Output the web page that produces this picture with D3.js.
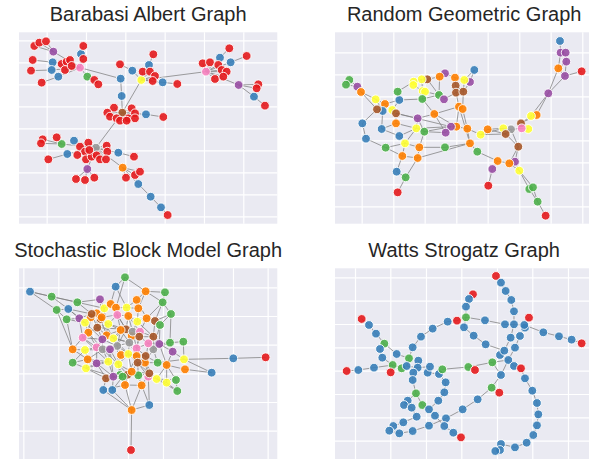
<!DOCTYPE html>
<html>
<head>
<meta charset="utf-8">
<script src="https://cdn.jsdelivr.net/npm/d3@7"></script>
<style>
  body { margin: 0; background: #fff; }
  svg { display: block; }
</style>
</head>
<body>
<svg id="chart"></svg>
<script>
// node = [id, x, y, community] in layout units, edges = "a-b"

// ---- Barabasi Albert ----
var baNodes = [
  ["Y",424,240,5],["P1",240,203,7],["P2",618,215,7],["B",367,338,6],["G",288,443,8],
  ["y1",362,236,1],["y2",397,212,1],["y3",447,195,1],["y4",428,215,0],["y5",450,215,0],["y6",465,228,0],
  ["y7",458,243,0],["y8",488,247,1],["y9",360,193,0],["y10",365,288,1],["y11",460,163,0],["y12",532,252,0],
  ["l1",160,155,3],["l2",103,138,0],["l3",118,128,0],["l4",138,124,0],["l5",243,162,1],["l6",250,138,0],
  ["l7",158,187,1],["l8",98,180,0],["l9",155,210,1],["l10",93,212,0],["l11",175,230,1],["l12",125,248,0],
  ["l13",262,230,2],["l14",283,240,0],["l15",295,253,0],["l16",185,192,0],["l17",200,185,0],["l18",210,180,0],
  ["l19",195,210,0],["l20",215,198,0],["l21",250,177,0],
  ["r1",660,173,1],["r2",688,145,0],["r3",692,187,1],["r4",740,168,0],["r5",608,190,0],["r6",630,187,0],
  ["r7",655,195,0],["r8",665,210,0],["r9",680,215,0],["r10",645,237,0],["r11",670,230,0],["r12",716,255,3],
  ["r13",775,253,0],["r14",770,265,0],["r15",762,290,1],["r16",795,317,0],
  ["m1",342,323,0],["m2",322,338,0],["m3",330,350,0],["m4",395,325,0],["m5",405,340,0],["m6",385,355,0],
  ["m7",405,355,0],["m8",350,355,0],["m9",360,362,0],["m10",380,362,0],["m11",438,343,1],["m12",490,351,0],
  ["d1",185,432,2],["d2",128,418,0],["d3",123,430,0],["d4",170,412,0],["d5",222,422,1],["d6",202,462,1],
  ["d7",145,478,0],["d8",240,440,0],["d9",265,428,0],["d10",255,455,0],["d11",232,465,0],["d12",258,478,0],
  ["d13",275,470,0],["d14",290,466,0],["d15",300,478,0],["d16",320,437,0],["d17",322,455,0],["d18",318,478,0],
  ["d19",268,450,0],["d20",262,507,3],["d21",228,537,0],["d22",255,540,0],["d23",283,533,0],["d24",355,458,1],
  ["d25",402,470,0],["d26",368,503,4],["d27",405,525,0],["d28",420,515,0],["d29",378,533,0],["d30",415,552,1],
  ["d31",452,590,1],["d32",483,622,1],["d33",503,645,0]
];
var baEdges = [
  "P1-l1","P1-l5","P1-l7","P1-l9","P1-l11","P1-l13","P1-l16","P1-l17","P1-l18","P1-l19","P1-l20","P1-l21","P1-y1",
  "l1-l2","l1-l3","l1-l4","l5-l6","l7-l8","l9-l10","l11-l12","l13-l14","l13-l15",
  "y1-y10","y10-B","Y-B","Y-P2","Y-y2","Y-y3","Y-y4","Y-y5","Y-y6","Y-y7","Y-y8","y2-y9","y3-y11","y8-y12",
  "P2-r1","P2-r3","P2-r5","P2-r6","P2-r7","P2-r8","P2-r9","P2-r10","P2-r11","P2-r12",
  "r1-r2","r3-r4","r12-r13","r12-r14","r12-r15","r15-r16",
  "B-m1","B-m2","B-m3","B-m4","B-m5","B-m6","B-m7","B-m8","B-m9","B-m10","B-m11","m11-m12","B-G",
  "G-d1","G-d5","G-d6","G-d8","G-d9","G-d10","G-d11","G-d12","G-d13","G-d14","G-d15","G-d16","G-d17","G-d18","G-d19",
  "G-d20","G-d24","G-d26","d1-d2","d1-d3","d1-d4","d6-d7","d20-d21","d20-d22","d20-d23","d24-d25",
  "d26-d27","d26-d28","d26-d29","d26-d30","d30-d31","d31-d32","d32-d33"
];
var baXTicks = [140,258,376,494,612,730];
var baYTicks = [121,187,253,319,385,451,517,583,649];

// ---- Random Geometric ----
var rgNodes = [
  ["a1",795,123,1],["a2",797,158,3],["a3",812,158,3],["a4",814,185,3],["a5",790,205,4],["a6",810,228,3],
  ["a7",860,214,0],["a8",760,280,3],["a9",725,345,4],["a10",708,348,5],["a11",678,370,6],["a12",700,387,5],
  ["a13",680,385,7],["a14",648,388,8],["a15",625,385,5],["a16",632,402,6],["a17",578,388,4],["a18",557,404,5],
  ["a19",517,386,4],["a20",484,380,4],["a21",468,380,3],["a22",452,398,3],["a23",525,430,4],["a24",547,455,2],
  ["a25",670,440,6],["a26",660,485,3],["a27",643,490,4],["a28",608,483,4],["a29",592,507,3],["a30",580,557,0],
  ["a31",673,512,5],["a32",703,567,2],["a33",714,562,2],["a34",728,605,2],["a35",752,647,0],
  ["b1",538,210,1],["b2",525,246,3],["b3",508,240,5],["b4",480,233,4],["b5",450,220,3],["b6",434,230,4],
  ["b7",397,238,6],["b8",380,238,5],["b9",356,245,5],["b10",355,255,5],["b11",383,273,5],["b12",390,275,5],
  ["b13",482,257,6],["b14",483,278,6],["b15",505,275,6],["b16",432,285,2],["b17",447,298,3],["b18",382,297,2],
  ["b19",313,300,1],["b20",308,275,2],["b21",492,320,4],["b22",503,327,4],["b23",418,342,4],["b24",368,355,3],
  ["c1",163,240,2],["c2",153,254,2],["c3",187,260,3],["c4",198,276,4],["c5",242,298,5],["c6",270,312,4],
  ["c8",263,333,1],["c7",246,328,6],["c9",292,330,5],["c10",303,340,6],["c11",303,370,4],["c12",202,370,1],
  ["c13",260,387,1],["c14",364,385,5],["c15",388,395,2],["c16",313,408,1],["c17",213,416,1],["c18",272,443,2],
  ["c19",330,430,5],["c20",373,442,4],["c21",450,442,2],["c22",322,468,4],["c23",368,474,4],["c24",305,515,1],
  ["c25",332,532,2],["c26",308,577,0]
];
var rgEdges = [
  "a1-a2","a2-a3","a3-a4","a2-a5","a4-a5","a5-a6","a4-a6","a6-a7","a5-a8","a6-a8","a8-a9","a8-a10","a9-a10",
  "a10-a11","a9-a11","a11-a12","a11-a13","a13-a14","a14-a15","a14-a16","a15-a16","a12-a13","a15-a17","a16-a17",
  "a17-a18","a18-a16","a18-a15","a18-a19","a19-a20","a20-a21","a21-a22","a19-a23","a23-a24","a24-a28","a28-a29",
  "a28-a27","a27-a26","a26-a25","a27-a25","a25-a16","a25-a14","a29-a30","a26-a31","a27-a31","a31-a32","a31-a33",
  "a32-a33","a33-a34","a32-a34","a34-a35",
  "b1-b2","b1-b3","b2-b3","b3-b4","b4-b5","b5-b6","b6-b7","b7-b8","b8-b9","b9-b10","b8-b11","b11-b10","b11-b12",
  "b4-b13","b13-b14","b14-b15","b13-b15","b3-b15","b2-b15","b14-b21","b15-b22","b21-b22","b14-b17","b16-b17",
  "b16-b18","b18-b19","b19-b20","b20-b9","b18-b12","b7-b16","b18-b23","b23-b21","b23-b24","b22-a19","b21-a20",
  "b21-a23","b23-a22","b23-a20","b6-b16","b12-b16",
  "c1-c2","c2-c3","c1-c3","c3-c4","c4-c5","c4-c7","c5-c6","c6-c7","c7-c8","c6-c9","c9-c10","c10-c11","c6-b19",
  "c5-c8","c7-c12","c12-c17","c17-c18","c18-c19","c18-c22","c8-c13","c13-c16","c16-c19","c16-c14","c11-c14",
  "c10-b24","b24-c14","c14-c15","c15-a22","c14-a21","c10-a21","c19-c20","c20-c21","c21-a23","c20-c23","c22-c23",
  "c19-c22","c23-a23","c22-c24","c23-c25","c24-c25","c25-c26","c14-c19","c15-c20","c9-b19","c11-c13","b24-c15",
  "c15-a21"
];
var rgXTicks = [200,295,389,484,578,673,767,862];
var rgYTicks = [157,223,289,355,421,487,553,619];

// ---- Stochastic Block Model ----
var sbNodes = [
  ["s1",90,185,1],["s2",155,200,2],["s3",170,240,2],["s4",232,217,2],["s5",205,237,1],["s6",200,268,2],
  ["s7",300,208,3],["s8",375,142,2],["s9",347,170,1],["s10",437,184,4],["s11",495,187,2],["s12",410,210,4],
  ["s13",488,217,2],["s14",513,252,2],["s15",218,358,4],["s16",218,398,2],["s17",510,338,2],["s18",550,335,2],
  ["s19",518,365,3],["s20",552,388,5],["s21",555,418,4],["s22",635,428,1],["s23",700,385,1],["s24",797,382,0],
  ["s25",528,450,2],["s26",532,483,2],["s27",500,458,5],["s28",310,480,1],["s29",337,480,1],["s30",448,525,1],
  ["s31",395,540,4],["s32",393,660,0],
  ["t62",290,250,4],["t64",302,267,6],["t63",363,375,4],["t65",360,435,2],["t66",272,262,4],["t67",395,318,4],
  ["t1",313,235,5],["t2",332,222,4],["t3",348,233,4],["t4",380,233,5],["t5",415,235,4],["t6",238,265,3],
  ["t7",275,252,6],["t8",255,278,5],["t9",305,262,4],["t10",325,282,5],["t11",352,255,7],["t12",385,258,4],
  ["t13",412,275,5],["t14",440,265,4],["t15",465,273,6],["t16",480,285,2],["t17",292,293,6],["t18",265,308,4],
  ["t19",378,298,6],["t20",398,305,8],["t21",420,305,7],["t22",362,300,4],["t23",248,323,7],["t24",320,316,4],
  ["t25",307,328,3],["t26",340,325,5],["t27",460,320,6],["t28",418,320,6],["t29",388,338,8],["t30",255,360,5],
  ["t31",290,352,7],["t32",308,358,8],["t33",352,348,8],["t34",330,358,3],["t35",410,355,7],["t36",460,358,8],
  ["t37",445,340,7],["t38",478,342,3],["t39",263,388,4],["t40",385,372,5],["t41",290,400,3],["t42",325,395,5],
  ["t43",355,403,5],["t44",435,398,4],["t45",437,378,6],["t46",410,378,4],["t47",413,398,6],["t48",473,398,2],
  ["t49",500,405,4],["t50",258,415,5],["t51",318,445,6],["t52",340,440,3],["t53",383,434,6],["t54",415,436,2],
  ["t55",395,425,4],["t56",368,440,2],["t57",445,440,7],["t58",448,430,6],["t59",470,447,5],["t60",375,465,4],
  ["t61",425,466,4]
];
var sbEdges = [
  "s1-s2","s1-s3","s1-s4","s2-s4","s2-s5","s3-s5","s3-s6","s3-s15","s4-s7","s4-t7","s5-t6","s5-t7","s6-t6",
  "s6-t8","s6-s15","s7-t1","s7-t9","s8-s9","s8-s10","s8-t3","s9-t2","s9-t4","s10-s11","s10-s13","s10-s12",
  "s11-s13","s12-t5","s12-t14","s13-t14","s13-s14","s14-t16","s14-s17","s17-s18","s17-s19","s18-s20","s19-s20",
  "s19-t38","s20-s23","s20-s22","s21-s22","s21-t49","s23-s24","s20-t48","s25-s26","s27-s26","s27-t59","s25-t49",
  "s15-t30","s15-t23","s16-t39","s16-t30","s28-s31","s29-s31","s28-t51","s29-t52","s31-t60","s31-t61","s31-s30",
  "s31-s32","s30-t61","s30-t57",
  "t1-t2","t1-t9","t2-t3","t3-t4","t3-t11","t4-t5","t4-t12","t5-t13","t6-t7","t6-t8","t7-t9","t7-t17","t8-t18",
  "t9-t10","t10-t11","t10-t17","t11-t12","t11-t22","t12-t13","t13-t14","t14-t15","t15-t16","t15-t27","t16-t38",
  "t17-t18","t17-t24","t18-t23","t19-t20","t19-t22","t20-t21","t20-t29","t21-t28","t22-t26","t23-t25","t24-t25",
  "t24-t26","t25-t31","t26-t33","t27-t28","t27-t37","t28-t35","t29-t33","t29-t35","t30-t31","t30-t39","t31-t32",
  "t32-t34","t33-t34","t33-t40","t35-t37","t35-t46","t36-t37","t36-t38","t36-t48","t39-t41","t39-t50","t40-t43",
  "t40-t46","t41-t42","t41-t50","t42-t43","t42-t34","t43-t55","t44-t45","t44-t47","t44-t48","t45-t46","t47-t55",
  "t47-t54","t48-t49","t49-t59","t50-t51","t51-t52","t52-t56","t53-t55","t53-t56","t54-t58","t57-t58","t57-t59",
  "t53-t60","t54-t61","t56-t60","t58-t61",
  "t1-t24","t2-t19","t6-t23","t9-t26","t12-t20","t14-t21","t18-t32","t22-t29","t23-t42","t26-t40","t31-t41",
  "t32-t43","t34-t52","t37-t44","t38-t49","t45-t57","t8-t25","t10-t19","t13-t27","t16-t36","t27-t36","t29-t40",
  "t21-t35","t46-t53","t47-t58","t50-t42","t39-t32","t33-t19","t41-t51","t43-t56","t44-t59","t55-t54",
  "t17-t19","t10-t22","t24-t29","t25-t33","t18-t31","t9-t11","t7-t10","t12-t21","t13-t20","t19-t28","t22-t33",
  "t26-t29","t11-t19","t10-t24","t17-t25","t23-t31","t30-t32","t31-t34","t32-t42","t33-t43","t34-t43","t40-t45",
  "t35-t45","t36-t44","t37-t38","t27-t38","t28-t37","t21-t27","t20-t35","t29-t46","t40-t55","t43-t53","t42-t52",
  "t41-t52","t50-t52","t39-t42","t47-t57","t44-t57","t45-t48","t46-t44","t55-t58","t60-t61","t51-t56","t53-t54",
  "t40-t47","t62-t9","t62-t7","t62-t17","t63-t40","t63-t43","t63-t33","t63-t46","t64-t10","t64-t62","t64-t24",
  "t65-t56","t65-t52","t65-t43","t66-t7","t66-t18","t66-t8","t67-t20","t67-t29","t67-t22","t67-t28",
  "s5-t8","s4-t1","s12-t4","s10-t5","s13-t15","s14-t15","s17-t38","s17-t36","s19-t49","s15-t39","s16-t50",
  "s25-t59","s27-t49","s26-t59","s28-t60","s29-t56","t22-t24","t19-t26","t12-t19","t25-t32","t17-t23"
];
var sbXTicks = [70,175,280,384,489,594,699,803];
var sbYTicks = [172,258,344,430,516,602];

// ---- Watts Strogatz ----
var wsNodes = [
  ["w1",603,138,0],["w2",618,158,1],["w3",632,183,1],["w4",649,210,1],["w5",657,244,1],["w6",657,283,1],
  ["w7",534,193,0],["w8",522,207,1],["w9",513,230,1],["w10",513,262,2],["w11",486,272,0],["w12",458,275,1],
  ["w13",413,296,1],["w14",378,320,1],["w15",353,352,1],["w16",342,385,2],["w17",305,372,1],["w18",268,341,2],
  ["w19",243,311,1],["w20",222,285,1],["w21",200,267,0],["w22",255,357,1],["w23",262,383,1],["w24",293,405,2],
  ["w25",287,427,0],["w26",320,415,2],["w27",335,408,1],["w28",237,413,1],["w29",190,420,1],["w30",155,423,0],
  ["w31",370,392,1],["w32",368,413,1],["w33",355,428,1],["w34",398,428,1],["w35",405,410,1],["w36",432,432,1],
  ["w37",442,418,2],["w38",353,450,1],["w39",363,490,2],["w40",338,512,1],["w41",327,525,1],["w42",382,525,2],
  ["w43",350,533,1],["w44",402,538,1],["w45",420,557,1],["w46",430,512,1],["w47",448,487,1],["w48",452,457,1],
  ["w49",365,560,1],["w50",325,577,1],["w51",295,588,1],["w52",283,602,1],["w53",313,610,1],["w54",353,603,1],
  ["w55",402,587,1],["w56",453,565,1],["w57",448,588,1],["w58",475,608,1],["w59",498,622,0],["w60",503,538,1],
  ["w61",548,508,1],["w62",590,473,2],["w63",613,488,0],["w64",618,435,1],["w65",592,397,2],["w66",520,411,2],
  ["w67",540,420,0],["w68",615,375,1],["w69",628,362,1],["w70",640,390,1],["w71",660,353,1],["w72",647,323,1],
  ["w73",675,318,1],["w74",690,293,1],["w75",688,285,1],["w76",702,263,0],["w77",745,307,1],["w78",792,319,1],
  ["w79",830,329,1],["w80",860,340,0],["w81",570,271,1],["w82",630,283,1],["w83",507,292,1],["w84",536,317,1],
  ["w85",572,343,1],["w86",657,408,1],["w87",678,415,0],["w88",690,445,1],["w89",712,482,1],["w90",726,519,1],
  ["w91",730,553,1],["w92",726,586,1],["w93",715,615,1],["w94",695,638,1],["w95",660,652,1],["w96",618,642,1],
  ["w97",615,660,1],["w98",601,663,1]
];
var wsEdges = [
  "w1-w2","w2-w3","w3-w4","w4-w5","w5-w6","w6-w72","w72-w69","w69-w68","w68-w70",
  "w76-w75","w75-w74","w74-w73","w73-w71","w71-w70","w70-w64","w64-w62","w62-w61","w61-w60","w60-w56",
  "w56-w55","w55-w54","w54-w53","w53-w52","w52-w51","w51-w50","w50-w49","w49-w43","w43-w41","w41-w40",
  "w75-w77","w77-w78","w78-w79","w79-w80","w10-w81","w81-w82","w82-w75",
  "w7-w8","w8-w9","w9-w10","w10-w11","w10-w83","w83-w84","w84-w85","w85-w69",
  "w11-w12","w12-w13","w13-w14","w14-w15","w15-w16","w16-w27",
  "w21-w20","w20-w19","w19-w18","w18-w17","w17-w16","w18-w22","w22-w23","w23-w24","w24-w25",
  "w30-w29","w29-w28","w28-w24","w24-w26","w26-w27","w27-w32","w32-w35","w35-w34","w34-w36","w36-w37",
  "w37-w66","w66-w65","w65-w70","w66-w67","w65-w64",
  "w31-w32","w32-w33","w33-w38","w38-w39","w39-w42","w42-w44","w44-w45","w45-w57","w57-w58","w58-w59",
  "w36-w48","w48-w47","w47-w46","w46-w44","w40-w39","w62-w63",
  "w70-w86","w86-w87","w87-w88","w88-w89","w89-w90","w90-w91","w91-w92","w92-w93","w93-w94","w94-w95",
  "w95-w96","w96-w97","w97-w98"
];
var wsXTicks = [180,286,393,499,606,712,819];
var wsYTicks = [142,212,282,352,422,492,562,632];

var titles = ["Barabasi Albert Graph", "Random Geometric Graph", "Stochastic Block Model Graph", "Watts Strogatz Graph"];

// ---- layout ----
var width = 589, height = 459;
var panelW = 258.3, panelH = 191.4;

var panels = [
  {left: 19,  top: 32.3,  xDom: [57, 832],  yDom: [97, 671],  nodes: baNodes, edges: baEdges, xt: baXTicks, yt: baYTicks},
  {left: 335, top: 32.3,  xDom: [120, 895], yDom: [97, 671],  nodes: rgNodes, edges: rgEdges, xt: rgXTicks, yt: rgYTicks},
  {left: 19,  top: 268.3, xDom: [57, 832],  yDom: [115, 689], nodes: sbNodes, edges: sbEdges, xt: sbXTicks, yt: sbYTicks},
  {left: 335, top: 268.3, xDom: [120, 895], yDom: [115, 689], nodes: wsNodes, edges: wsEdges, xt: wsXTicks, yt: wsYTicks}
];

var color = d3.scaleOrdinal().domain(d3.range(9)).range(d3.schemeSet1);

var svg = d3.select("#chart")
  .attr("width", width)
  .attr("height", height);

panels.forEach(function(p, i) {
  var x = d3.scaleLinear().domain(p.xDom).range([p.left, p.left + panelW]);
  var y = d3.scaleLinear().domain(p.yDom).range([p.top, p.top + panelH]);

  var g = svg.append("g");

  svg.append("clipPath").attr("id", "clip" + i)
    .append("rect")
    .attr("x", p.left).attr("y", p.top)
    .attr("width", panelW).attr("height", panelH);

  g.append("rect")
    .attr("x", p.left).attr("y", p.top)
    .attr("width", panelW).attr("height", panelH)
    .attr("fill", "#eaeaf2");

  // white grid from axes with no labels
  g.append("g")
    .attr("transform", "translate(0," + (p.top + panelH) + ")")
    .call(d3.axisBottom(x).tickValues(p.xt).tickSize(-panelH).tickFormat(""))
    .call(customGrid);

  g.append("g")
    .attr("transform", "translate(" + p.left + ",0)")
    .call(d3.axisLeft(y).tickValues(p.yt).tickSize(-panelW).tickFormat(""))
    .call(customGrid);

  var byId = new Map(p.nodes.map(function(n) { return [n[0], n]; }));
  var links = p.edges.map(function(e) {
    var k = e.split("-");
    return [byId.get(k[0]), byId.get(k[1])];
  });

  var plot = g.append("g").attr("clip-path", "url(#clip" + i + ")");

  plot.selectAll("line.edge")
    .data(links)
    .enter().append("line")
    .attr("class", "edge")
    .attr("x1", function(d) { return x(d[0][1]); })
    .attr("y1", function(d) { return y(d[0][2]); })
    .attr("x2", function(d) { return x(d[1][1]); })
    .attr("y2", function(d) { return y(d[1][2]); })
    .attr("stroke", "#808080")
    .attr("stroke-width", 0.9)
    .attr("stroke-opacity", 0.85);

  plot.selectAll("circle")
    .data(p.nodes)
    .enter().append("circle")
    .attr("cx", function(d) { return x(d[1]); })
    .attr("cy", function(d) { return y(d[2]); })
    .attr("r", 4.4)
    .attr("fill", function(d) { return color(d[3]); })
    .attr("fill-opacity", 0.9)
    .attr("stroke", "#fff")
    .attr("stroke-width", 0.9);

  svg.append("text")
    .attr("x", p.left + panelW / 2)
    .attr("y", p.top - 11.5)
    .attr("text-anchor", "middle")
    .attr("font-family", "'Liberation Sans', Arial, sans-serif")
    .attr("font-size", 20)
    .attr("fill", "#262626")
    .text(titles[i]);
});

function customGrid(g) {
  g.select(".domain").remove();
  g.selectAll(".tick line").attr("stroke", "#fff").attr("stroke-width", 1.2);
}
</script>
</body>
</html>
